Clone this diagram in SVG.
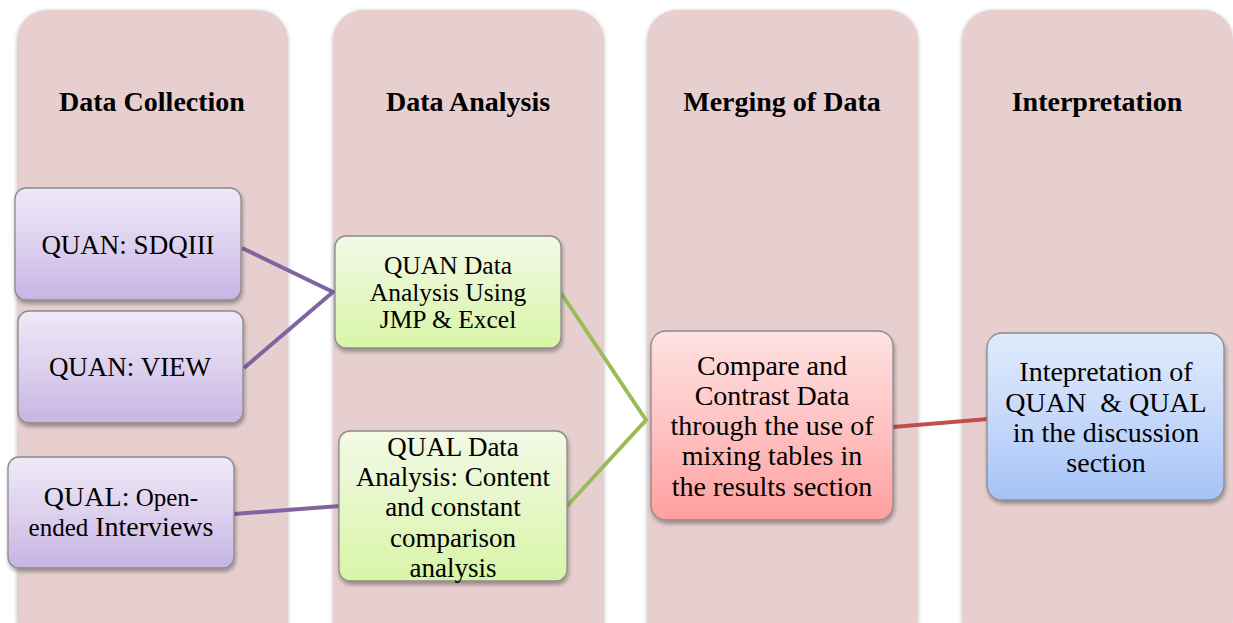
<svg xmlns="http://www.w3.org/2000/svg" width="1233" height="623" viewBox="0 0 1233 623">
<defs>
<filter id="sh" x="-10%" y="-10%" width="125%" height="125%">
<feGaussianBlur in="SourceAlpha" stdDeviation="2"/>
<feOffset dx="1" dy="3" result="b"/>
<feComponentTransfer><feFuncA type="linear" slope="0.35"/></feComponentTransfer>
<feMerge><feMergeNode/><feMergeNode in="SourceGraphic"/></feMerge>
</filter>
<filter id="csh" x="-5%" y="-5%" width="110%" height="110%">
<feGaussianBlur in="SourceAlpha" stdDeviation="2"/>
<feOffset dx="0" dy="1"/>
<feComponentTransfer><feFuncA type="linear" slope="0.25"/></feComponentTransfer>
<feMerge><feMergeNode/><feMergeNode in="SourceGraphic"/></feMerge>
</filter>
<linearGradient id="gP" x1="0" y1="0" x2="0" y2="1"><stop offset="0" stop-color="#eee9f7"/><stop offset="0.5" stop-color="#ddd1ee"/><stop offset="1" stop-color="#c7b4e3"/></linearGradient>
<linearGradient id="gG" x1="0" y1="0" x2="0" y2="1"><stop offset="0" stop-color="#f2f9e6"/><stop offset="0.5" stop-color="#e6f7c8"/><stop offset="1" stop-color="#d8f5a6"/></linearGradient>
<linearGradient id="gR" x1="0" y1="0" x2="0" y2="1"><stop offset="0" stop-color="#ffe1e1"/><stop offset="0.5" stop-color="#ffc3c3"/><stop offset="1" stop-color="#ff9f9f"/></linearGradient>
<linearGradient id="gB" x1="0" y1="0" x2="0" y2="1"><stop offset="0" stop-color="#e0eafc"/><stop offset="0.5" stop-color="#c7d9fa"/><stop offset="1" stop-color="#a5c3f8"/></linearGradient>
</defs>
<style>
.col{fill:#e7cfcf;filter:url(#csh)}
.ttl{font-family:"Liberation Serif","Times New Roman",serif;font-weight:bold;font-size:28px;text-anchor:middle;fill:#000}
.nd{stroke:#8a8a8a;stroke-width:1.3;filter:url(#sh)}
.tx{font-family:"Liberation Serif","Times New Roman",serif;font-size:27px;text-anchor:middle;fill:#000}
.sm{font-size:25.5px}
.lg{font-size:28px}
.cn{fill:none;stroke-width:4;stroke-linecap:butt}
</style>
<rect width="1233" height="623" fill="#ffffff"/>
<g id="columns">
<g id="col-collection"><rect class="col" x="17" y="10" width="271" height="640" rx="30"/><text class="ttl" x="152" y="111">Data Collection</text></g>
<g id="col-analysis"><rect class="col" x="333" y="10" width="271" height="640" rx="30"/><text class="ttl" x="468" y="111">Data Analysis</text></g>
<g id="col-merging"><rect class="col" x="647" y="10" width="271" height="640" rx="30"/><text class="ttl" x="782" y="111">Merging of Data</text></g>
<g id="col-interpretation"><rect class="col" x="962" y="10" width="271" height="640" rx="30"/><text class="ttl" x="1097" y="111">Interpretation</text></g>
</g>
<g id="connectors">
<polyline class="cn" stroke="#8064a2" points="242,248 333,292 244,368"/>
<line class="cn" stroke="#8064a2" x1="234" y1="514" x2="340" y2="506"/>
<polyline class="cn" stroke="#9bbb59" points="561,293 646,420 567,506"/>
<line class="cn" stroke="#c0504d" x1="893" y1="427" x2="988" y2="419"/>
</g>
<g id="n-sdqiii"><rect class="nd" fill="url(#gP)" x="15" y="188" width="226" height="112" rx="11"/><text class="tx" x="128" y="254">QUAN: SDQIII</text></g>
<g id="n-view"><rect class="nd" fill="url(#gP)" x="18" y="311" width="225" height="112" rx="11"/><text class="tx" x="130" y="376">QUAN: VIEW</text></g>
<g id="n-qual-int"><rect class="nd" fill="url(#gP)" x="8" y="457" width="226" height="111" rx="11"/><text class="tx" x="121" y="506"><tspan font-size="28">QUAL:</tspan><tspan font-size="25"> Open-</tspan></text><text class="tx" x="121" y="536"><tspan font-size="25">ended</tspan><tspan font-size="28"> Interviews</tspan></text></g>
<g id="n-quan-analysis"><rect class="nd" fill="url(#gG)" x="335" y="236" width="226" height="112" rx="11"/><text class="tx sm" x="448" y="274">QUAN Data</text><text class="tx sm" x="448" y="301">Analysis Using</text><text class="tx sm" x="448" y="328">JMP &amp; Excel</text></g>
<g id="n-qual-analysis"><rect class="nd" fill="url(#gG)" x="339" y="431" width="228" height="150" rx="11"/><text class="tx" x="453" y="456">QUAL Data</text><text class="tx" x="453" y="486">Analysis: Content</text><text class="tx" x="453" y="516">and constant</text><text class="tx" x="453" y="547">comparison</text><text class="tx" x="453" y="577">analysis</text></g>
<g id="n-compare"><rect class="nd" fill="url(#gR)" x="651" y="331" width="242" height="189" rx="15"/><text class="tx lg" x="772" y="375">Compare and</text><text class="tx lg" x="772" y="405">Contrast Data</text><text class="tx lg" x="772" y="435">through the use of</text><text class="tx lg" x="772" y="465">mixing tables in</text><text class="tx lg" x="772" y="496">the results section</text></g>
<g id="n-interp"><rect class="nd" fill="url(#gB)" x="987" y="333" width="237" height="167" rx="15"/><text class="tx lg" x="1106" y="381">Intepretation of</text><text class="tx lg" x="1106" y="412" xml:space="preserve">QUAN  &amp; QUAL</text><text class="tx lg" x="1106" y="442">in the discussion</text><text class="tx lg" x="1106" y="472">section</text></g>
</svg>
